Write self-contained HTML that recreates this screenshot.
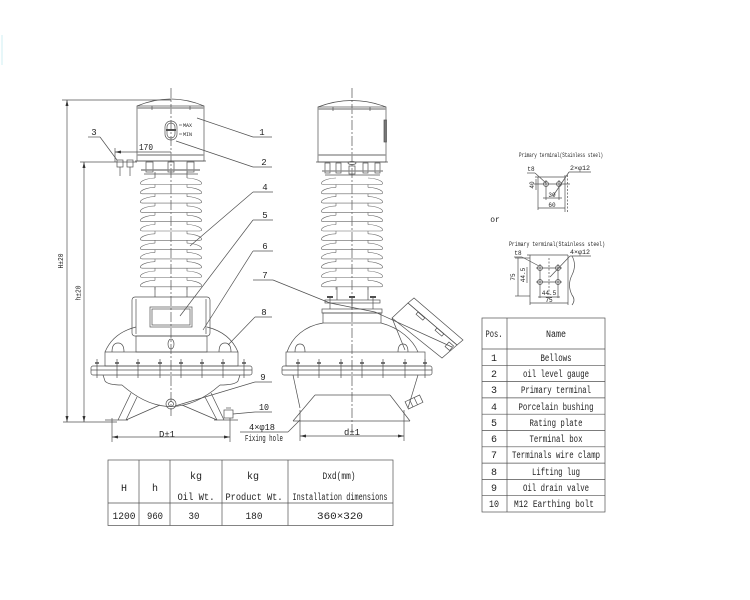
<!DOCTYPE html>
<html><head><meta charset="utf-8"><style>
html,body{margin:0;padding:0;background:#fff;}
svg{display:block;}
.l{fill:none;stroke:#505050;stroke-width:0.7;}
.t{font-family:"Liberation Mono",monospace;fill:#222;}
</style></head><body>
<svg width="750" height="600" viewBox="0 0 750 600" xmlns="http://www.w3.org/2000/svg">
<defs>
<g id="shed" fill="none" stroke="#666" stroke-width="0.6">
<path d="M-16,0 C-22,0 -28,2 -30,4 Q-32,6.5 -28,6.5 L28,6.5 Q32,6.5 30,4 C28,2 22,0 16,0"/>
<path d="M-16,6.5 V9.4 M16,6.5 V9.4"/>
</g>
</defs>

<line x1="2" y1="35" x2="2" y2="65" stroke="#cfeff3" stroke-width="1"/>

<!-- ============ LEFT DRAWING ============ -->
<g class="l">
<line x1="62" y1="100" x2="171" y2="100"/>
<line x1="67" y1="100" x2="67" y2="422"/>
<line x1="80" y1="162" x2="137" y2="162"/>
<line x1="84" y1="162" x2="84" y2="422"/>
<line x1="63" y1="422" x2="117" y2="422"/>
<line x1="171" y1="88" x2="171" y2="416" stroke-dasharray="10,2,2,2"/>
<path d="M137,106 Q171,92 204,106"/>
<rect x="137" y="106" width="67" height="55"/>
<line x1="137" y1="108" x2="204" y2="108" stroke="#999" stroke-width="1.6"/>
<line x1="137" y1="155" x2="204" y2="155" stroke="#999" stroke-width="1.4"/>
<line x1="152" y1="106" x2="152" y2="110"/><line x1="190" y1="106" x2="190" y2="110"/>
<rect x="165" y="121" width="12" height="19" rx="6"/>
<rect x="167" y="123" width="8" height="15" rx="4"/>
<line x1="166" y1="130" x2="176" y2="130" stroke-width="2"/>
<line x1="179" y1="125" x2="182" y2="125"/><line x1="179" y1="134" x2="182" y2="134"/>
<line x1="115" y1="152" x2="171" y2="152"/>
<line x1="115" y1="148" x2="115" y2="162"/>
<rect x="117" y="160" width="6" height="7"/><line x1="120" y1="167" x2="120" y2="176"/>
<rect x="127" y="160" width="6" height="7"/><line x1="130" y1="167" x2="130" y2="176"/>
<line x1="135" y1="161" x2="206" y2="161"/>
<rect x="146" y="162" width="7" height="10"/>
<rect x="168" y="162" width="6" height="10"/>
<rect x="187" y="162" width="7" height="10"/>
<line x1="141" y1="170" x2="200" y2="170" stroke="#888" stroke-width="1.4"/>
<line x1="144" y1="174" x2="198" y2="174"/>
<line x1="155" y1="172" x2="155" y2="178"/><line x1="187" y1="172" x2="187" y2="178"/>
</g>
<use href="#shed" x="171" y="178"/>
<use href="#shed" x="171" y="187.3"/>
<use href="#shed" x="171" y="196.6"/>
<use href="#shed" x="171" y="205.9"/>
<use href="#shed" x="171" y="215.2"/>
<use href="#shed" x="171" y="224.5"/>
<use href="#shed" x="171" y="233.8"/>
<use href="#shed" x="171" y="243.1"/>
<use href="#shed" x="171" y="252.4"/>
<use href="#shed" x="171" y="261.7"/>
<use href="#shed" x="171" y="271"/>
<use href="#shed" x="171" y="280.3"/>
<g class="l">
<line x1="155" y1="287" x2="155" y2="297"/><line x1="187" y1="287" x2="187" y2="297"/>
<rect x="132" y="297" width="78" height="39" rx="3"/>
<line x1="136" y1="299" x2="136" y2="334"/><line x1="206" y1="299" x2="206" y2="334"/>
<rect x="150" y="307" width="42" height="20"/>
<rect x="152" y="309" width="38" height="16"/>
<rect x="136" y="336" width="71" height="16"/>
<ellipse cx="171" cy="344" rx="3" ry="5"/>
<path d="M105,352 C110,340 120,331 136,327"/>
<path d="M238,352 C233,340 223,331 207,327"/>
<path d="M112,352 Q112,343 118,343 Q124,343 124,352"/>
<path d="M219,352 Q219,343 225,343 Q231,343 231,352"/>
<rect x="105" y="352" width="133" height="14"/>
<rect x="91" y="366" width="161" height="9" rx="2"/>
<line x1="91" y1="370" x2="252" y2="370"/>
<g>
<line x1="97" y1="359" x2="97" y2="378"/><line x1="117" y1="359" x2="117" y2="378"/>
<line x1="138" y1="359" x2="138" y2="378"/><line x1="160" y1="359" x2="160" y2="378"/>
<line x1="181" y1="359" x2="181" y2="378"/><line x1="202" y1="359" x2="202" y2="378"/>
<line x1="223" y1="359" x2="223" y2="378"/><line x1="244" y1="359" x2="244" y2="378"/>
<path d="M95,363h4M115,363h4M136,363h4M158,363h4M179,363h4M200,363h4M221,363h4M242,363h4" stroke-width="1.4"/>
</g>
<path d="M103,375 L105,381 Q108,385 122,385"/>
<path d="M240,375 L238,381 Q235,385 220,385"/>
<path d="M122,385 Q171,428 220,385"/>
<path d="M131,393 L118,420 M137,397 L126,420 M126,420 L160,405"/>
<path d="M211,393 L224,420 M205,397 L217,420 M217,420 L182,405"/>
<line x1="105" y1="420" x2="128" y2="420"/>
<line x1="214" y1="420" x2="238" y2="420"/>
<circle cx="171" cy="404" r="5"/>
<circle cx="171" cy="404" r="2.5"/>
<rect x="224" y="410" width="9" height="8"/>
<line x1="226" y1="408" x2="231" y2="408"/>
<line x1="112" y1="418" x2="112" y2="442"/>
<line x1="230" y1="418" x2="230" y2="442"/>
<line x1="112" y1="437" x2="230" y2="437"/>
<line x1="197" y1="118" x2="253" y2="137"/><line x1="253" y1="137" x2="272" y2="137"/>
<line x1="176" y1="141" x2="253" y2="167"/><line x1="253" y1="167" x2="272" y2="167"/>
<line x1="88" y1="137" x2="100" y2="137"/><line x1="100" y1="137" x2="117" y2="160"/>
<line x1="253" y1="192" x2="273" y2="192"/><line x1="253" y1="192" x2="190" y2="246"/>
<line x1="253" y1="220" x2="273" y2="220"/><line x1="253" y1="220" x2="180" y2="316"/>
<line x1="253" y1="251" x2="273" y2="251"/><line x1="253" y1="251" x2="203" y2="330"/>
<line x1="253" y1="280" x2="273" y2="280"/><line x1="273" y1="280" x2="330" y2="303"/>
<line x1="255" y1="317" x2="272" y2="317"/><line x1="255" y1="317" x2="228" y2="345"/>
<line x1="255" y1="382" x2="272" y2="382"/><line x1="255" y1="382" x2="175" y2="406"/>
<line x1="255" y1="412" x2="272" y2="412"/><line x1="255" y1="412" x2="233" y2="414"/>
<line x1="240" y1="432" x2="288" y2="432"/><line x1="288" y1="432" x2="300" y2="420"/>
</g>
<polygon points="67,100 65.5,106 68.5,106" fill="#333"/>
<polygon points="67,422 65.5,416 68.5,416" fill="#333"/>
<polygon points="84,162 82.5,168 85.5,168" fill="#333"/>
<polygon points="84,422 82.5,416 85.5,416" fill="#333"/>
<polygon points="112,437 118,435.5 118,438.5" fill="#333"/>
<polygon points="230,437 224,435.5 224,438.5" fill="#333"/>
<polygon points="115,152 121,150.5 121,153.5" fill="#333"/>

<text class="t" font-size="5" x="183" y="127">MAX</text>
<text class="t" font-size="5" x="183" y="136">MIN</text>
<text class="t" font-size="9" x="146" y="150" text-anchor="middle" textLength="14" lengthAdjust="spacingAndGlyphs">170</text>
<text class="t" font-size="9" x="94" y="135" text-anchor="middle">3</text>
<text class="t" font-size="9" x="262" y="135" text-anchor="middle">1</text>
<text class="t" font-size="9" x="264" y="165" text-anchor="middle">2</text>
<text class="t" font-size="9" x="265" y="190" text-anchor="middle">4</text>
<text class="t" font-size="9" x="265" y="218" text-anchor="middle">5</text>
<text class="t" font-size="9" x="265" y="249" text-anchor="middle">6</text>
<text class="t" font-size="9" x="265" y="278" text-anchor="middle">7</text>
<text class="t" font-size="9" x="264" y="315" text-anchor="middle">8</text>
<text class="t" font-size="9" x="263" y="380" text-anchor="middle">9</text>
<text class="t" font-size="9" x="264" y="410" text-anchor="middle" textLength="10" lengthAdjust="spacingAndGlyphs">10</text>
<text class="t" font-size="9" x="262" y="430" text-anchor="middle" textLength="26" lengthAdjust="spacingAndGlyphs">4×φ18</text>
<text class="t" font-size="9" x="264" y="441" text-anchor="middle" textLength="38" lengthAdjust="spacingAndGlyphs">Fixing hole</text>
<text class="t" font-size="9" x="167" y="437" text-anchor="middle" textLength="16" lengthAdjust="spacingAndGlyphs">D±1</text>
<text class="t" font-size="7" transform="translate(63,261) rotate(-90)" text-anchor="middle" textLength="15" lengthAdjust="spacingAndGlyphs">H±20</text>
<text class="t" font-size="7" transform="translate(80.5,293) rotate(-90)" text-anchor="middle" textLength="15" lengthAdjust="spacingAndGlyphs">h±20</text>

<!-- ============ RIGHT DRAWING ============ -->
<g class="l">
<line x1="352" y1="88" x2="352" y2="432" stroke-dasharray="10,2,2,2"/>
<path d="M318,107 Q352,94 386,107"/>
<rect x="318" y="107" width="68" height="55"/>
<line x1="318" y1="109" x2="386" y2="109" stroke="#999" stroke-width="1.6"/>
<line x1="318" y1="155" x2="386" y2="155" stroke="#999" stroke-width="1.4"/>
<rect x="384" y="120" width="2.5" height="22" fill="#777"/>
<line x1="333" y1="107" x2="333" y2="111"/><line x1="370" y1="107" x2="370" y2="111"/>
<line x1="316" y1="162" x2="388" y2="162"/>
<rect x="325" y="163" width="5" height="10"/><rect x="336" y="163" width="5" height="10"/>
<rect x="349" y="166" width="6" height="8"/><ellipse cx="352" cy="163" rx="4" ry="1.5"/>
<rect x="363" y="163" width="5" height="10"/><rect x="375" y="163" width="5" height="10"/>
<line x1="322" y1="171" x2="383" y2="171" stroke="#888" stroke-width="1.3"/>
<line x1="325" y1="175" x2="380" y2="175"/>
</g>
<use href="#shed" x="352" y="178"/>
<use href="#shed" x="352" y="187.3"/>
<use href="#shed" x="352" y="196.6"/>
<use href="#shed" x="352" y="205.9"/>
<use href="#shed" x="352" y="215.2"/>
<use href="#shed" x="352" y="224.5"/>
<use href="#shed" x="352" y="233.8"/>
<use href="#shed" x="352" y="243.1"/>
<use href="#shed" x="352" y="252.4"/>
<use href="#shed" x="352" y="261.7"/>
<use href="#shed" x="352" y="271"/>
<use href="#shed" x="352" y="280.3"/>
<g class="l">
<line x1="337" y1="287" x2="337" y2="300"/><line x1="368" y1="287" x2="368" y2="300"/>
<rect x="325" y="300" width="55" height="3"/>
<line x1="330" y1="296" x2="330" y2="309"/><line x1="352" y1="296" x2="352" y2="309"/><line x1="373" y1="296" x2="373" y2="309"/>
<path d="M327,297h6M349,297h6M370,297h6" stroke-width="2"/>
<rect x="322" y="309" width="60" height="4"/>
<rect x="323" y="313" width="58" height="10"/>
<path d="M287,352 C292,337 305,326 323,323"/>
<path d="M418,352 C413,340 400,328 381,323"/>
<path d="M295,352 Q295,344 300,344 Q305,344 305,352"/>
<path d="M398,352 Q398,344 403,344 Q408,344 408,352"/>
<rect x="286" y="352" width="139" height="14"/>
<rect x="282" y="366" width="150" height="9" rx="2"/>
<line x1="282" y1="370" x2="432" y2="370"/>
<line x1="298" y1="359" x2="298" y2="378"/><line x1="319" y1="359" x2="319" y2="378"/>
<line x1="341" y1="359" x2="341" y2="378"/><line x1="362" y1="359" x2="362" y2="378"/>
<line x1="383" y1="359" x2="383" y2="378"/><line x1="405" y1="359" x2="405" y2="378"/>
<line x1="425" y1="359" x2="425" y2="378"/>
<path d="M296,363h4M317,363h4M339,363h4M360,363h4M381,363h4M403,363h4M423,363h4" stroke-width="1.4"/>
<path d="M293,375 L300,408"/>
<path d="M418,375 L408,408"/>
<line x1="315" y1="395" x2="390" y2="395"/>
<line x1="315" y1="395" x2="293" y2="421"/>
<line x1="390" y1="395" x2="410" y2="421"/>
<line x1="293" y1="421" x2="410" y2="421"/>
<g transform="translate(414,402) rotate(-25)"><rect x="-8" y="-4" width="16" height="8"/><line x1="-3" y1="-4" x2="-3" y2="4"/><line x1="2" y1="-4" x2="2" y2="4"/></g>
<polygon points="392,318 408,303 457,345 442,358"/>
<polygon points="408,303 414,298 463,340 457,345"/>
<rect x="0" y="0" width="9" height="3" transform="translate(418,312) rotate(41)"/>
<rect x="0" y="0" width="9" height="3" transform="translate(437,328) rotate(41)"/>
<rect x="0" y="0" width="6" height="6" transform="translate(449,342) rotate(41)"/>
<line x1="392" y1="318" x2="405" y2="350"/>
<line x1="375" y1="312" x2="452" y2="347"/>
<line x1="330" y1="303" x2="375" y2="312"/>
<line x1="300" y1="410" x2="300" y2="441"/>
<line x1="404" y1="410" x2="404" y2="441"/>
<line x1="300" y1="436" x2="404" y2="436"/>
</g>
<polygon points="300,436 306,434.5 306,437.5" fill="#333"/>
<polygon points="404,436 398,434.5 398,437.5" fill="#333"/>
<text class="t" font-size="9" x="352" y="435" text-anchor="middle" textLength="16" lengthAdjust="spacingAndGlyphs">d±1</text>

<!-- ============ TERMINAL DETAILS ============ -->
<text class="t" font-size="6" x="519" y="157" textLength="84" lengthAdjust="spacingAndGlyphs">Primary terminal(Stainless steel)</text>
<g class="l" stroke-width="0.6">
<line x1="535" y1="177" x2="565" y2="177"/>
<line x1="538" y1="177" x2="538" y2="210"/>
<line x1="565" y1="175" x2="565" y2="212"/>
<line x1="567.5" y1="175" x2="567.5" y2="212" stroke-dasharray="2,1.5"/>
<circle cx="546" cy="184" r="2.5"/><circle cx="559" cy="184" r="2.5"/>
<line x1="534" y1="184" x2="570" y2="184"/>
<line x1="546" y1="180" x2="546" y2="200"/><line x1="559" y1="180" x2="559" y2="200"/>
<line x1="536" y1="179" x2="536" y2="190"/>
<line x1="543" y1="198" x2="562" y2="198"/>
<line x1="538" y1="208" x2="565" y2="208"/>
<line x1="527" y1="173" x2="535" y2="173"/><line x1="535" y1="173" x2="546" y2="183"/>
<line x1="569" y1="172" x2="591" y2="172"/><line x1="569" y1="172" x2="553" y2="196"/>
</g>
<text class="t" font-size="6" x="531" y="171" text-anchor="middle">t8</text>
<text class="t" font-size="6" x="580" y="170" text-anchor="middle" textLength="20" lengthAdjust="spacingAndGlyphs">2×φ12</text>
<text class="t" font-size="6" transform="translate(534,185) rotate(-90)" text-anchor="middle">40</text>
<text class="t" font-size="6" x="552" y="197" text-anchor="middle">30</text>
<text class="t" font-size="6" x="552" y="207" text-anchor="middle">60</text>
<text class="t" font-size="8" x="495" y="222" text-anchor="middle">or</text>

<text class="t" font-size="6" x="509" y="246" textLength="96" lengthAdjust="spacingAndGlyphs">Primary terminal(Stainless steel)</text>
<g class="l" stroke-width="0.6">
<line x1="527" y1="255" x2="568" y2="255"/>
<line x1="530" y1="255" x2="530" y2="305"/>
<line x1="568" y1="255" x2="568" y2="305"/>
<path d="M572,256 Q577,265 572,275 Q567,285 572,295 Q576,300 572,305"/>
<circle cx="540" cy="268" r="2.5"/><circle cx="558" cy="268" r="2.5"/>
<circle cx="540" cy="282" r="2.5"/><circle cx="558" cy="282" r="2.5"/>
<line x1="536" y1="268" x2="562" y2="268"/><line x1="536" y1="282" x2="562" y2="282"/>
<line x1="540" y1="264" x2="540" y2="298"/><line x1="558" y1="264" x2="558" y2="298"/>
<line x1="549" y1="258" x2="549" y2="300" stroke-dasharray="2,1.5"/>
<line x1="518" y1="258" x2="518" y2="296"/><line x1="515" y1="258" x2="530" y2="258"/><line x1="515" y1="296" x2="530" y2="296"/>
<line x1="527" y1="267" x2="527" y2="283"/>
<line x1="538" y1="297" x2="560" y2="297"/>
<line x1="530" y1="303" x2="568" y2="303"/>
<line x1="514" y1="257" x2="522" y2="257"/><line x1="522" y1="257" x2="539" y2="266"/>
<line x1="570" y1="256" x2="591" y2="256"/><line x1="570" y1="256" x2="550" y2="277"/>
</g>
<text class="t" font-size="6" x="518" y="255" text-anchor="middle">t8</text>
<text class="t" font-size="6" x="580" y="254" text-anchor="middle" textLength="20" lengthAdjust="spacingAndGlyphs">4×φ12</text>
<text class="t" font-size="6" transform="translate(515,277) rotate(-90)" text-anchor="middle">75</text>
<text class="t" font-size="6" transform="translate(525,275) rotate(-90)" text-anchor="middle">44.5</text>
<text class="t" font-size="6" x="549" y="295" text-anchor="middle">44.5</text>
<text class="t" font-size="6" x="549" y="302" text-anchor="middle">75</text>

<!-- ============ RIGHT TABLE ============ -->
<g class="l" stroke="#555">
<rect x="482" y="318" width="123" height="194"/>
<line x1="507" y1="318" x2="507" y2="512"/>
<line x1="482" y1="349" x2="605" y2="349"/>
<line x1="482" y1="365.3" x2="605" y2="365.3"/>
<line x1="482" y1="381.6" x2="605" y2="381.6"/>
<line x1="482" y1="397.9" x2="605" y2="397.9"/>
<line x1="482" y1="414.2" x2="605" y2="414.2"/>
<line x1="482" y1="430.5" x2="605" y2="430.5"/>
<line x1="482" y1="446.8" x2="605" y2="446.8"/>
<line x1="482" y1="463.1" x2="605" y2="463.1"/>
<line x1="482" y1="479.4" x2="605" y2="479.4"/>
<line x1="482" y1="495.7" x2="605" y2="495.7"/>
</g>
<g class="t" font-size="10" text-anchor="middle">
<text x="494" y="337" textLength="17" lengthAdjust="spacingAndGlyphs">Pos.</text>
<text x="556" y="337" textLength="20" lengthAdjust="spacingAndGlyphs">Name</text>
<text x="494" y="361">1</text><text x="556" y="361" textLength="31" lengthAdjust="spacingAndGlyphs">Bellows</text>
<text x="494" y="377">2</text><text x="556" y="377" textLength="66" lengthAdjust="spacingAndGlyphs">oil level gauge</text>
<text x="494" y="393">3</text><text x="556" y="393" textLength="70" lengthAdjust="spacingAndGlyphs">Primary terminal</text>
<text x="494" y="410">4</text><text x="556" y="410" textLength="75" lengthAdjust="spacingAndGlyphs">Porcelain bushing</text>
<text x="494" y="426">5</text><text x="556" y="426" textLength="53" lengthAdjust="spacingAndGlyphs">Rating plate</text>
<text x="494" y="442">6</text><text x="556" y="442" textLength="53" lengthAdjust="spacingAndGlyphs">Terminal box</text>
<text x="494" y="458">7</text><text x="556" y="458" textLength="88" lengthAdjust="spacingAndGlyphs">Terminals wire clamp</text>
<text x="494" y="475">8</text><text x="556" y="475" textLength="48" lengthAdjust="spacingAndGlyphs">Lifting lug</text>
<text x="494" y="491">9</text><text x="556" y="491" textLength="66" lengthAdjust="spacingAndGlyphs">Oil drain valve</text>
<text x="494" y="507" textLength="10" lengthAdjust="spacingAndGlyphs">10</text><text x="554" y="507" textLength="80" lengthAdjust="spacingAndGlyphs">M12 Earthing bolt</text>
</g>

<!-- ============ BOTTOM TABLE ============ -->
<g class="l" stroke="#555">
<rect x="108" y="460" width="285" height="65.5"/>
<line x1="108" y1="503" x2="393" y2="503"/>
<line x1="139" y1="460" x2="139" y2="525.5"/>
<line x1="170" y1="460" x2="170" y2="525.5"/>
<line x1="222" y1="460" x2="222" y2="525.5"/>
<line x1="288" y1="460" x2="288" y2="525.5"/>
</g>
<g class="t" font-size="10" text-anchor="middle">
<text x="124" y="491">H</text>
<text x="155" y="491">h</text>
<text x="196" y="479">kg</text>
<text x="196" y="500" textLength="37" lengthAdjust="spacingAndGlyphs">Oil Wt.</text>
<text x="253" y="479">kg</text>
<text x="254" y="500" textLength="57" lengthAdjust="spacingAndGlyphs">Product Wt.</text>
<text x="339" y="479" textLength="33" lengthAdjust="spacingAndGlyphs">Dxd(mm)</text>
<text x="340" y="500" textLength="95" lengthAdjust="spacingAndGlyphs">Installation dimensions</text>
<text x="124" y="519" textLength="23" lengthAdjust="spacingAndGlyphs">1200</text>
<text x="155" y="519" textLength="16" lengthAdjust="spacingAndGlyphs">960</text>
<text x="194" y="519" textLength="11" lengthAdjust="spacingAndGlyphs">30</text>
<text x="254" y="519" textLength="17" lengthAdjust="spacingAndGlyphs">180</text>
<text x="340" y="519" textLength="46" lengthAdjust="spacingAndGlyphs">360×320</text>
</g>
</svg>
</body></html>
